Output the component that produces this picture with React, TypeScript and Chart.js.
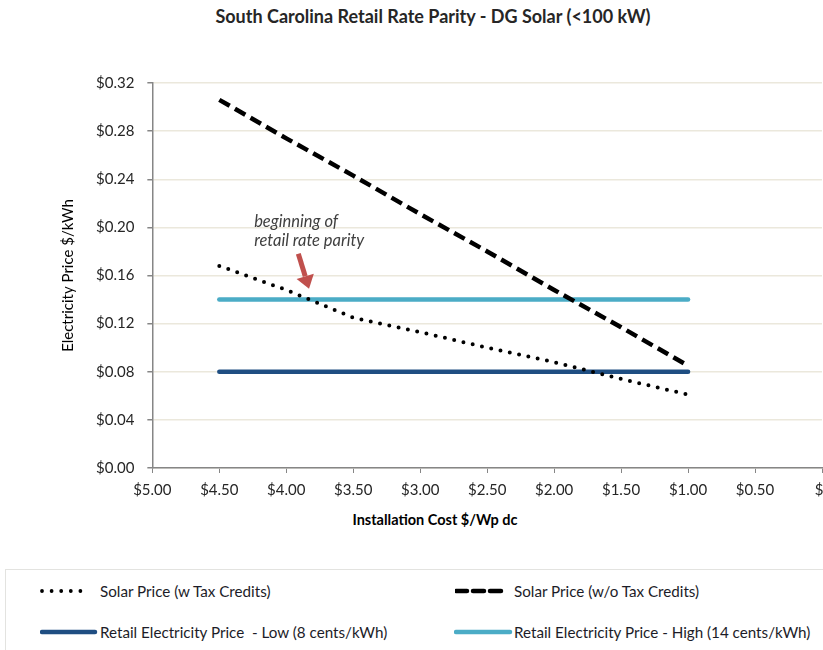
import React, { useEffect, useRef } from "react";
import { Chart, registerables } from "chart.js";

Chart.register(...registerables);

const chartTitle = "South Carolina Retail Rate Parity - DG Solar (<100 kW)";
const xAxisTitle = "Installation Cost $/Wp dc";
const yAxisTitle = "Electricity Price $/kWh";

const costs = [4.5, 4.0, 3.5, 3.0, 2.5, 2.0, 1.5, 1.0];
const solarWithCredits = [0.168, 0.148, 0.125, 0.113, 0.1, 0.088, 0.074, 0.061];
const solarWithoutCredits = [0.306, 0.274, 0.243, 0.211, 0.18, 0.148, 0.117, 0.085];
const retailLow = [0.08, 0.08, 0.08, 0.08, 0.08, 0.08, 0.08, 0.08];
const retailHigh = [0.14, 0.14, 0.14, 0.14, 0.14, 0.14, 0.14, 0.14];

const seriesNames = [
  "Solar Price (w Tax Credits)",
  "Solar Price (w/o Tax Credits)",
  "Retail Electricity Price  - Low (8 cents/kWh)",
  "Retail Electricity Price - High (14 cents/kWh)",
];

const annotationLines = ["beginning of", "retail rate parity"];
const annotationAt = { x: 4.24, y: 0.2 };
const arrowFrom = { x: 3.91, y: 0.178 };
const arrowTo = { x: 3.83, y: 0.149 };

const DARK_BLUE = "#1f4e82";
const LIGHT_BLUE = "#4bacc6";
const FONT = "Lato, 'Open Sans', sans-serif";

const toPoints = (ys: number[]) => costs.map((x, i) => ({ x, y: ys[i] }));

const annotationPlugin = {
  id: "parityNote",
  afterDatasetsDraw(chart: any) {
    const { ctx, scales } = chart;
    const xs = scales.x;
    const ys = scales.y;
    ctx.save();
    ctx.font = `italic 16.5px ${FONT}`;
    ctx.fillStyle = "#404040";
    ctx.textBaseline = "alphabetic";
    const tx = xs.getPixelForValue(annotationAt.x);
    const ty = ys.getPixelForValue(annotationAt.y);
    annotationLines.forEach((t, i) => ctx.fillText(t, tx, ty + i * 19));

    const x1 = xs.getPixelForValue(arrowFrom.x);
    const y1 = ys.getPixelForValue(arrowFrom.y);
    const x2 = xs.getPixelForValue(arrowTo.x);
    const y2 = ys.getPixelForValue(arrowTo.y);
    const dx = x2 - x1;
    const dy = y2 - y1;
    const len = Math.hypot(dx, dy);
    const ux = dx / len;
    const uy = dy / len;
    const headLen = 13;
    const headHalf = 9;
    const bx = x2 - ux * headLen;
    const by = y2 - uy * headLen;
    ctx.strokeStyle = "#c0504d";
    ctx.fillStyle = "#c0504d";
    ctx.lineWidth = 5;
    ctx.beginPath();
    ctx.moveTo(x1, y1);
    ctx.lineTo(bx, by);
    ctx.stroke();
    ctx.beginPath();
    ctx.moveTo(x2, y2);
    ctx.lineTo(bx - uy * headHalf, by + ux * headHalf);
    ctx.lineTo(bx + uy * headHalf, by - ux * headHalf);
    ctx.closePath();
    ctx.fill();
    ctx.restore();
  },
};

function LegendSample({ kind, width }: { kind: number; width: number }) {
  if (kind === 0) {
    return (
      <svg width={width + 4} height="8" style={{ display: "block" }}>
        <line x1="2" y1="4" x2={width} y2="4" stroke="#000" strokeWidth="3.8" strokeDasharray="0 9.6" strokeLinecap="round" />
      </svg>
    );
  }
  if (kind === 1) {
    return (
      <svg width={width + 4} height="8" style={{ display: "block" }}>
        <line x1="1" y1="4" x2={width} y2="4" stroke="#000" strokeWidth="4.5" strokeDasharray="11 6" strokeLinecap="round" />
      </svg>
    );
  }
  return (
    <svg width={width + 4} height="8" style={{ display: "block" }}>
      <line x1="2" y1="4" x2={width} y2="4" stroke={kind === 2 ? DARK_BLUE : LIGHT_BLUE} strokeWidth="4.5" strokeLinecap="round" />
    </svg>
  );
}

export default function App() {
  const canvasRef = useRef<HTMLCanvasElement | null>(null);

  useEffect(() => {
    if (!canvasRef.current) return;
    const chart = new Chart(canvasRef.current, {
      type: "line",
      data: {
        datasets: [
          {
            label: seriesNames[0],
            data: toPoints(solarWithCredits),
            borderColor: "#000",
            borderWidth: 4,
            borderDash: [0, 9.5],
            borderCapStyle: "round",
            pointRadius: 0,
            tension: 0,
          },
          {
            label: seriesNames[1],
            data: toPoints(solarWithoutCredits),
            borderColor: "#000",
            borderWidth: 4.5,
            borderDash: [12, 6],
            borderCapStyle: "butt",
            pointRadius: 0,
            tension: 0,
          },
          {
            label: seriesNames[2],
            data: toPoints(retailLow),
            borderColor: DARK_BLUE,
            borderWidth: 4.5,
            borderCapStyle: "round",
            pointRadius: 0,
          },
          {
            label: seriesNames[3],
            data: toPoints(retailHigh),
            borderColor: LIGHT_BLUE,
            borderWidth: 4.5,
            borderCapStyle: "round",
            pointRadius: 0,
          },
        ],
      },
      options: {
        animation: false,
        responsive: false,
        layout: { padding: { left: 59, right: 62, top: 83, bottom: 2 } },
        plugins: {
          legend: { display: false },
          title: { display: false },
          tooltip: { enabled: false },
        },
        scales: {
          x: {
            type: "linear",
            reverse: true,
            min: 0,
            max: 5,
            ticks: {
              stepSize: 0.5,
              color: "#262626",
              font: { family: FONT, size: 15 },
              padding: 8,
              maxRotation: 0,
              callback: (v: any) => (Number(v) === 0 ? "$-" : "$" + Number(v).toFixed(2)),
            },
            grid: {
              drawOnChartArea: false,
              tickLength: 5,
              tickColor: "#868686",
              color: "#868686",
            },
            border: { color: "#868686", width: 1.5 },
          },
          y: {
            min: 0,
            max: 0.32,
            ticks: {
              stepSize: 0.04,
              color: "#262626",
              font: { family: FONT, size: 15 },
              padding: 13,
              callback: (v: any) => "$" + Number(v).toFixed(2),
            },
            grid: {
              color: "#ebe8dc",
              lineWidth: 1.5,
              tickLength: 5,
              tickColor: "#868686",
            },
            border: { color: "#868686", width: 1.5 },
            title: {
              display: true,
              text: yAxisTitle,
              color: "#000",
              font: { family: FONT, size: 15 },
              padding: { top: 0, bottom: 6 },
            },
          },
        },
      },
      plugins: [annotationPlugin],
    });
    return () => chart.destroy();
  }, []);

  const item = (k: number, sampleLeft: number, sampleWidth: number, textLeft: number, cy: number) => (
    <React.Fragment key={k}>
      <div style={{ position: "absolute", left: sampleLeft - 2, top: cy - 4 }}>
        <LegendSample kind={k} width={sampleWidth} />
      </div>
      <div
        style={{
          position: "absolute",
          left: textLeft,
          top: cy - 10,
          height: 20,
          lineHeight: "20px",
          whiteSpace: "pre",
        }}
      >
        {seriesNames[k]}
      </div>
    </React.Fragment>
  );

  return (
    <div
      style={{
        position: "fixed",
        left: 0,
        top: 0,
        width: 823,
        height: 650,
        overflow: "hidden",
        background: "#fff",
        fontFamily: FONT,
      }}
    >
      <div
        style={{
          position: "absolute",
          left: 0,
          top: 5,
          width: 866,
          textAlign: "center",
          fontWeight: "bold",
          fontSize: 18,
          color: "#262626",
        }}
      >
        {chartTitle}
      </div>
      <canvas ref={canvasRef} width={884} height={509} style={{ position: "absolute", left: 0, top: 0 }} />
      <div
        style={{
          position: "absolute",
          left: 0,
          top: 511,
          width: 870,
          textAlign: "center",
          fontWeight: "bold",
          fontSize: 14.5,
          color: "#000",
        }}
      >
        {xAxisTitle}
      </div>
      <div
        style={{
          position: "absolute",
          left: 5,
          top: 569,
          width: 840,
          height: 100,
          border: "1.5px solid #e3e3e0",
        }}
      />
      <div style={{ position: "absolute", left: 0, top: 0, fontSize: 15.2, color: "#1c1c28" }}>
        {item(0, 42, 48, 100, 591)}
        {item(1, 457, 47, 514, 591)}
        {item(2, 42, 55, 100, 632)}
        {item(3, 456, 56, 514, 632)}
      </div>
    </div>
  );
}
